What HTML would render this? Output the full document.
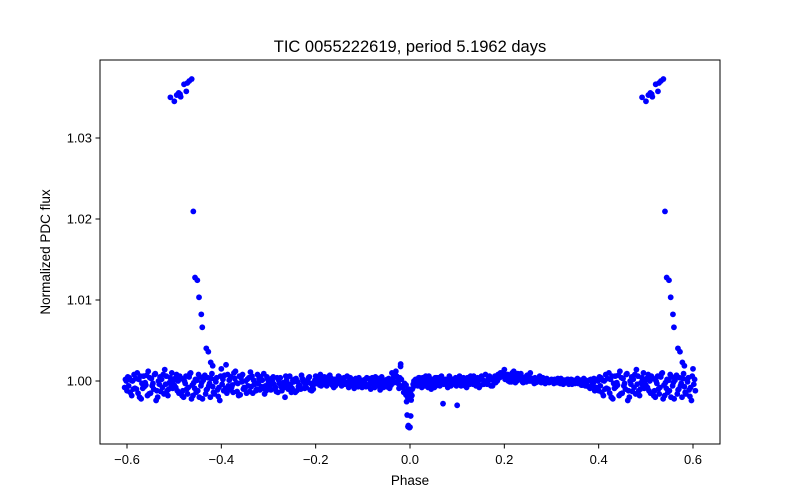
<!DOCTYPE html>
<html><head><meta charset="utf-8"><style>
body{margin:0;background:#fff}
svg{display:block;font-family:"Liberation Sans","DejaVu Sans",sans-serif}
</style></head><body>
<svg id="chart" width="800" height="500" viewBox="0 0 800 500" xmlns="http://www.w3.org/2000/svg">
<rect width="800" height="500" fill="#fff"/>
<text x="410" y="52" text-anchor="middle" font-size="16.5">TIC 0055222619, period 5.1962 days</text>
<g id="points"></g>
<rect x="100" y="60" width="620" height="384" fill="none" stroke="#000" stroke-width="1"/>
<g id="xticks"></g>
<g id="yticks"></g>
<text x="410" y="485" text-anchor="middle" font-size="13.5">Phase</text>
<text transform="translate(50,252) rotate(-90)" text-anchor="middle" font-size="13.5">Normalized PDC flux</text>
</svg>
<script>
const xTicks=[-0.6,-0.4,-0.2,0,0.2,0.4,0.6];
const xTickLabels=["\u22120.6","\u22120.4","\u22120.2","0.0","0.2","0.4","0.6"];
const yTicks=[1.00,1.01,1.02,1.03];
const yTickLabels=["1.00","1.01","1.02","1.03"];
const baseStart=-0.5, baseStep=0.005;
const rowA=[-5,8,-15,3,-20,6,-8,10,-18,2,-12,5,-22,7,-10,-3,9,-16,4,-8,
15,-12,20,-6,5,-14,12,-3,-17,8,-9,2,-13,6,-4,-10,3,-7,9,-12,
-2,-11,5,-8,-14,4,-6,-20,-3,6,-9,2,-12,-5,7,-1,-8,4,-3,-10,
6,-2,8,-4,3,-1,7,-5,2,-3,5,-6,4,-2,-8,1,-4,3,-7,0,
-5,2,-6,-3,4,-8,1,-2,5,-4,-7,3,-5,8,12,-3,18,-8,-15,-20,
-18,-10,-6,-2,4,-8,2,-4,6,-10,0,-6,4,-2,-28,2,-8,4,-4,0,
-30,6,-4,2,-8,4,-2,6,-6,0,4,-4,8,-2,2,-6,6,0,4,10,
14,4,7,-1,12,6,2,9,-2,5,3,10,1,4,-1,6,2,0,3,-2,
2,-3,1,-1,3,-4,0,2,-2,1,-3,3,-1,-5,2,-4,1,-6,3,-8,
-12,4,-18,8,-10,2,-22,6,-5,12,-15,-3,9,-20,5,-8,14,-12,-2,10];
const rowB=[3,-12,6,-18,0,-10,5,-22,-2,-14,8,-6,1,-16,4,-20,-7,2,-11,-24,
-4,7,-15,1,-8,10,-2,-18,4,-10,0,-6,11,-15,-2,8,-11,1,-16,5,
-9,3,-4,-13,1,-7,-2,6,-10,-4,1,-14,-1,-6,3,-9,-2,5,-12,-4,
-3,4,-6,2,-2,5,-3,1,-6,3,-1,0,-4,6,-3,2,-9,-1,4,-5,
1,-7,3,-10,-2,5,-6,-11,0,-3,2,-9,10,-2,6,-9,2,-14,-5,-10,
-16,-4,2,-6,-2,4,-6,0,-4,2,-8,4,-2,6,-4,0,2,-6,-2,4,
-4,-2,2,-6,4,-4,0,2,-2,-8,6,-4,0,4,-6,2,-2,8,10,6,
2,8,-1,10,3,0,7,1,4,-1,6,0,3,-2,2,-1,4,-3,1,-1,
-1,2,-2,0,-3,1,-1,-4,2,-2,0,-3,1,-2,-6,0,-9,-1,-12,2,
5,-14,0,-9,10,-20,-3,-7,7,-16,3,-10,-24,0,-13,8,-4,-18,4,-9];
const rowC=[-8,0,4,-12,-3,-16,9,-5,-9,1,-20,-2,5,-11,-6,3,-14,-1,-19,6,
2,-9,8,-11,-5,3,-13,6,-1,-8,-15,4,-7,1,-12,-3,5,-9,-6,2,
-6,0,-10,4,-3,-12,-8,1,-5,-14,-1,3,-7,-10,0,-4,2,-11,-6,1,
2,-5,0,5,-6,-2,3,-8,0,6,-4,2,-3,-1,4,-6,0,-3,1,-8,
-2,4,-4,0,-7,-1,3,-5,-8,1,-4,0,3,5,-1,4,-6,-3,-12,-16,
-10,0,-4,4,-6,-2,6,-8,2,-4,4,-2,-6,2,0,-4,6,-2,2,-6,
2,-6,4,0,-2,6,-4,-2,4,-6,2,0,-4,6,2,-2,4,8,6,10,
6,0,3,5,-2,9,4,-1,2,7,0,3,-3,1,4,-2,0,2,-1,1,
0,-2,3,-3,1,-1,2,-2,-4,0,2,-1,-5,3,-2,-7,2,-3,-10,0,
-6,1,-10,3,-15,6,-9,-2,-18,4,-6,8,-12,-4,2,-16,6,-10,-5,1];
const flarePhase=[-0.508,-0.4997,-0.4946,-0.4904,-0.4876,-0.4862,-0.4791,-0.4743,-0.4721,-0.4679,-0.4628,-0.4594,-0.4558,-0.4509,-0.4473,-0.4425,-0.4404,-0.4319,-0.4276,-0.4225,-0.4183];
const flareFlux=[1.03502,1.03453,1.0353,1.03556,1.03541,1.03509,1.03663,1.03576,1.03679,1.03704,1.03728,1.02094,1.01277,1.01244,1.01033,1.00823,1.00663,1.00403,1.00361,1.0023,1.00188];
const dipPhase=[-0.0198,-0.0085,-0.0072,-0.0060,-0.0043,-0.0035,-0.0012,0.0,0.0015,0.0025,0.0040];
const dipFlux=[1.0021,0.99827,0.99745,0.9958,0.99436,0.9945,0.99424,0.9943,0.99568,0.99765,0.9982];
const X0=-0.6,X1=0.6;
function sx(v){return 127+(v-X0)/(X1-X0)*566;}
function sy(v){return 381-(v-1.0)*8100;}
const NS="http://www.w3.org/2000/svg";
const pg=document.getElementById('points');
function dot(p,f){
  [p,p+1,p-1].forEach(q=>{
    if(q<-0.605||q>0.605)return;
    const c=document.createElementNS(NS,'circle');
    c.setAttribute('cx',sx(q).toFixed(2));
    c.setAttribute('cy',sy(f).toFixed(2));
    c.setAttribute('r','2.9');
    c.setAttribute('fill','#0000ff');
    
    
    pg.appendChild(c);
  });
}
[rowA,rowB,rowC].forEach((row,k)=>{
  row.forEach((d,i)=>{dot(baseStart+baseStep*i+k*0.0017,1+d/10000);});
});
flarePhase.forEach((p,i)=>dot(p,flareFlux[i]));
dipPhase.forEach((p,i)=>dot(p,dipFlux[i]));
const xg=document.getElementById('xticks');
xTicks.forEach((t,i)=>{
  const l=document.createElementNS(NS,'line');
  l.setAttribute('x1',sx(t));l.setAttribute('x2',sx(t));
  l.setAttribute('y1',444);l.setAttribute('y2',448.5);
  l.setAttribute('stroke','#000');
  
  
  xg.appendChild(l);
  const tx=document.createElementNS(NS,'text');
  tx.setAttribute('x',sx(t));tx.setAttribute('y',464);
  tx.setAttribute('text-anchor','middle');tx.setAttribute('font-size','13');
  
  
  tx.textContent=xTickLabels[i];
  xg.appendChild(tx);
});
const yg=document.getElementById('yticks');
yTicks.forEach((t,i)=>{
  const l=document.createElementNS(NS,'line');
  l.setAttribute('x1',95.5);l.setAttribute('x2',100);
  l.setAttribute('y1',sy(t));l.setAttribute('y2',sy(t));
  l.setAttribute('stroke','#000');
  
  
  yg.appendChild(l);
  const tx=document.createElementNS(NS,'text');
  tx.setAttribute('x',92);tx.setAttribute('y',sy(t)+4.5);
  tx.setAttribute('text-anchor','end');tx.setAttribute('font-size','13');
  
  
  tx.textContent=yTickLabels[i];
  yg.appendChild(tx);
});
</script>
</body></html>
